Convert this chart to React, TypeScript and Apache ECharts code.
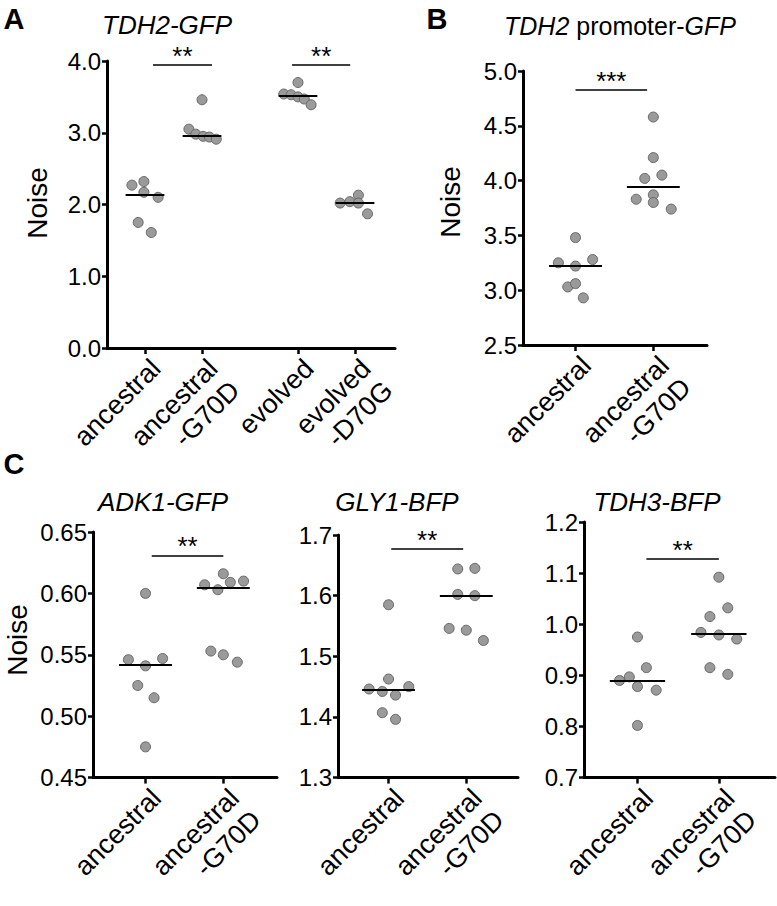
import React, { useEffect, useRef } from "react";
import * as echarts from "echarts";

// ---------- data ----------
const catsA = ["ancestral", "ancestral\n-G70D", "evolved", "evolved\n-D70G"];
const catsPair = ["ancestral", "ancestral\n-G70D"];

// Panel A: TDH2-GFP
const aNoise = [
  [2.27, 2.32, 2.17, 2.1, 1.75, 1.61],
  [3.46, 3.05, 2.98, 2.95, 2.94, 2.91],
  [3.7, 3.54, 3.53, 3.5, 3.47, 3.39],
  [2.02, 2.04, 2.13, 2.02, 1.87],
];
const aJitter = [
  [-0.23, -0.02, -0.02, 0.23, -0.12, 0.11],
  [0, -0.23, -0.11, 0.02, 0.13, 0.25],
  [0, -0.25, -0.12, 0, 0.11, 0.23],
  [-0.26, -0.09, 0.06, 0.06, 0.22],
];
const aMeans = [2.14, 2.96, 3.51, 2.02];
const aYTicks = [0, 4, 1];

// Panel B: TDH2 promoter-GFP
const bNoise = [
  [3.48, 3.25, 3.22, 3.28, 3.03, 3.06, 2.93],
  [4.58, 4.21, 4.02, 4.05, 3.87, 3.83, 3.8, 3.74],
];
const bJitter = [
  [0, -0.22, 0, 0.22, -0.1, 0, 0.1],
  [0, 0, -0.11, 0.11, 0, -0.22, 0, 0.23],
];
const bMeans = [3.22, 3.94];
const bYTicks = [2.5, 5, 0.5];

// Panel C: ADK1-GFP
const c1Noise = [
  [0.6, 0.546, 0.547, 0.541, 0.525, 0.515, 0.475],
  [0.616, 0.607, 0.603, 0.609, 0.61, 0.553, 0.55, 0.544],
];
const c1Jitter = [
  [0, -0.22, 0.22, 0, -0.1, 0.11, 0],
  [0, -0.24, -0.07, 0.09, 0.26, -0.16, 0, 0.18],
];
const c1Means = [0.542, 0.605];
const c1YTicks = [0.45, 0.65, 0.05];

// Panel C: GLY1-BFP
const c2Noise = [
  [1.585, 1.4625, 1.446, 1.442, 1.45, 1.436, 1.407, 1.396],
  [1.644, 1.645, 1.602, 1.6, 1.546, 1.543, 1.526],
];
const c2Jitter = [
  [0, 0, -0.25, -0.08, 0.26, 0.09, -0.08, 0.09],
  [-0.11, 0.11, -0.11, 0.11, -0.22, 0, 0.22],
];
const c2Means = [1.444, 1.6];
const c2YTicks = [1.3, 1.7, 0.1];

// Panel C: TDH3-BFP
const c3Noise = [
  [0.975, 0.915, 0.89, 0.897, 0.878, 0.871, 0.802],
  [1.092, 1.032, 1.015, 0.984, 0.979, 0.971, 0.915, 0.902],
];
const c3Jitter = [
  [0, 0.11, -0.22, -0.1, 0, 0.23, 0],
  [0, 0.11, -0.11, -0.22, 0, 0.22, -0.11, 0.11],
];
const c3Means = [0.89, 0.981];
const c3YTicks = [0.7, 1.2, 0.1];

// significance bars: [x1, x2, y, stars]
const aSig: [number, number, number, string][] = [
  [1.14, 2.175, 3.95, "**"],
  [3.58, 4.6, 3.95, "**"],
];
const bSig: [number, number, number, string][] = [[1.0, 1.92, 4.83, "***"]];
const c1Sig: [number, number, number, string][] = [[1.08, 2.0, 0.631, "**"]];
const c2Sig: [number, number, number, string][] = [[1.035, 1.96, 1.677, "**"]];
const c3Sig: [number, number, number, string][] = [[1.11, 2.0, 1.128, "**"]];

// ---------- layout ----------
const FONT = "Liberation Sans, Arial, Helvetica, sans-serif";
const posA = [1, 2, 3.684, 4.684];
const posPair = [1, 2];

const panels = [
  { grid: { left: 107, top: 61, width: 288, height: 287 }, x: [0.333, 5.386], pos: posA, cats: catsA, noise: aNoise, jitter: aJitter, means: aMeans, y: aYTicks, dec: 1, sig: aSig },
  { grid: { left: 523, top: 71, width: 184, height: 274 }, x: [0.325, 2.69], pos: posPair, cats: catsPair, noise: bNoise, jitter: bJitter, means: bMeans, y: bYTicks, dec: 1, sig: bSig },
  { grid: { left: 93, top: 532, width: 184, height: 272 }, x: [0.325, 2.69], pos: posPair, cats: catsPair, noise: c1Noise, jitter: c1Jitter, means: c1Means, y: c1YTicks, dec: 2, sig: c1Sig },
  { grid: { left: 338, top: 535, width: 180, height: 269 }, x: [0.35, 2.665], pos: posPair, cats: catsPair, noise: c2Noise, jitter: c2Jitter, means: c2Means, y: c2YTicks, dec: 1, sig: c2Sig },
  { grid: { left: 584, top: 522, width: 191, height: 281 }, x: [0.343, 2.69], pos: posPair, cats: catsPair, noise: c3Noise, jitter: c3Jitter, means: c3Means, y: c3YTicks, dec: 1, sig: c3Sig },
];

const MEAN_HALF = 0.34;

function buildOption() {
  const grid: any[] = [];
  const xAxis: any[] = [];
  const yAxis: any[] = [];
  const series: any[] = [];

  panels.forEach((p, i) => {
    grid.push({ ...p.grid, containLabel: false });
    xAxis.push({
      type: "value",
      gridIndex: i,
      min: p.x[0],
      max: p.x[1],
      splitLine: { show: false },
      axisLine: { onZero: false, lineStyle: { color: "#000", width: 3 } },
      axisTick: {
        show: true,
        customValues: p.pos,
        length: 6,
        lineStyle: { color: "#000", width: 2.5 },
      },
      axisLabel: {
        customValues: p.pos,
        rotate: 45,
        margin: 5,
        fontSize: 27,
        lineHeight: 31,
        color: "#000",
        fontFamily: FONT,
        align: "right",
        verticalAlign: "top",
        formatter: (v: number) => {
          const k = p.pos.findIndex((q) => Math.abs(q - v) < 1e-6);
          return k >= 0 ? p.cats[k] : "";
        },
      },
    });
    yAxis.push({
      type: "value",
      gridIndex: i,
      min: p.y[0],
      max: p.y[1],
      interval: p.y[2],
      splitLine: { show: false },
      axisLine: { show: true, onZero: false, lineStyle: { color: "#000", width: 3 } },
      axisTick: { show: true, length: 5, lineStyle: { color: "#000", width: 2.5 } },
      axisLabel: {
        fontSize: 24,
        color: "#000",
        fontFamily: FONT,
        margin: 6,
        formatter: (v: number) => v.toFixed(p.dec),
      },
    });

    const pts: number[][] = [];
    p.noise.forEach((g, gi) => {
      g.forEach((v, k) => pts.push([p.pos[gi] + p.jitter[gi][k], v]));
    });

    const lines: any[] = [];
    p.means.forEach((m, gi) => {
      lines.push([
        { coord: [p.pos[gi] - MEAN_HALF, m], lineStyle: { width: 2, color: "#000" }, label: { show: false } },
        { coord: [p.pos[gi] + MEAN_HALF, m] },
      ]);
    });
    p.sig.forEach((s) => {
      lines.push([
        {
          coord: [s[0], s[2]],
          lineStyle: { width: 1.5, color: "#000" },
          label: {
            show: true,
            position: "middle",
            formatter: s[3],
            fontSize: 26,
            color: "#000",
            fontFamily: FONT,
            distance: -4,
          },
        },
        { coord: [s[1], s[2]] },
      ]);
    });

    series.push({
      type: "scatter",
      xAxisIndex: i,
      yAxisIndex: i,
      data: pts,
      symbolSize: 10,
      itemStyle: { color: "#9a9a9a", borderColor: "#686868", borderWidth: 1, opacity: 1 },
      markLine: {
        silent: true,
        symbol: ["none", "none"],
        animation: false,
        lineStyle: { type: "solid", color: "#000" },
        data: lines,
      },
      z: 3,
    });
  });

  const txt = (text: string, x: number, y: number, font: string, extra: any = {}) => ({
    type: "text",
    x,
    y,
    ...extra,
    style: { text, font, fill: "#000", align: "center", verticalAlign: "middle", ...(extra.style || {}) },
  });

  const graphic: any[] = [
    txt("A", 14, 19, `bold 29px ${FONT}`),
    txt("B", 437, 19, `bold 29px ${FONT}`),
    txt("C", 14, 464, `bold 29px ${FONT}`),
    txt("TDH2-GFP", 167, 25, `italic 26px ${FONT}`),
    {
      type: "text",
      x: 620,
      y: 26,
      style: {
        text: "{i|TDH2} promoter-{i|GFP}",
        font: `25px ${FONT}`,
        fill: "#000",
        align: "center",
        verticalAlign: "middle",
        rich: { i: { fontStyle: "italic", fontSize: 25, fontFamily: FONT, fill: "#000" } },
      },
    },
    txt("ADK1-GFP", 163, 502, `italic 26px ${FONT}`),
    txt("GLY1-BFP", 397, 502, `italic 26px ${FONT}`),
    txt("TDH3-BFP", 657, 502, `italic 26px ${FONT}`),
    txt("Noise", 37, 203, `28px ${FONT}`, { rotation: Math.PI / 2 }),
    txt("Noise", 450, 202, `28px ${FONT}`, { rotation: Math.PI / 2 }),
    txt("Noise", 17, 640, `28px ${FONT}`, { rotation: Math.PI / 2 }),
  ];

  return {
    animation: false,
    backgroundColor: "#fff",
    grid,
    xAxis,
    yAxis,
    series,
    graphic,
  };
}

export default function App() {
  const ref = useRef<HTMLDivElement>(null);
  useEffect(() => {
    if (!ref.current) return;
    const chart = echarts.init(ref.current, undefined, { renderer: "svg" });
    chart.setOption(buildOption() as any);
    return () => chart.dispose();
  }, []);
  return (
    <div
      ref={ref}
      style={{ position: "fixed", left: 0, top: 0, width: 777, height: 906, background: "#fff" }}
    />
  );
}
